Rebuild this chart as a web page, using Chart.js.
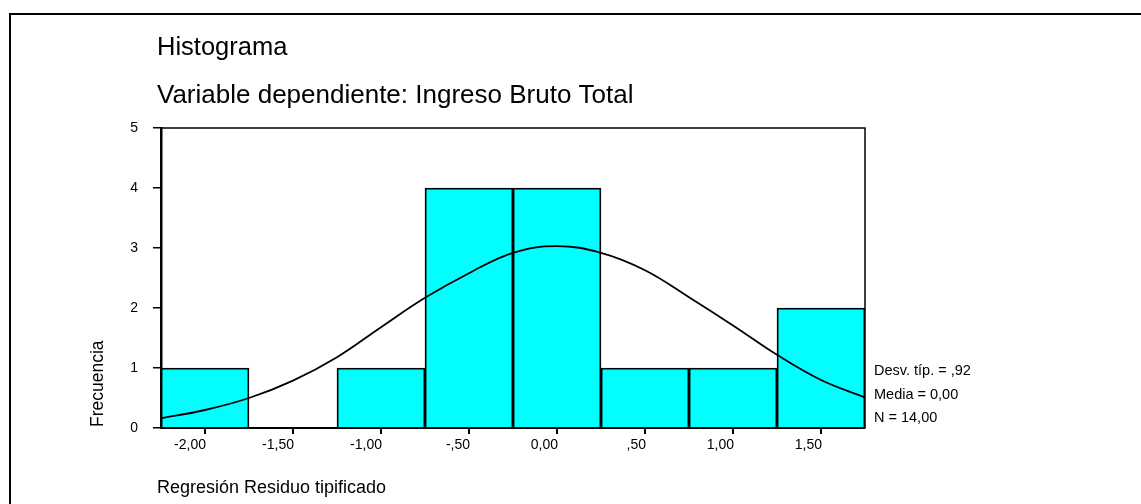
<!DOCTYPE html>
<html lang="es">
<head>
<meta charset="utf-8">
<title>Histograma</title>
<script src="https://cdn.jsdelivr.net/npm/chart.js@4.4.1/dist/chart.umd.min.js"></script>
<style>
  html, body { margin: 0; padding: 0; background: #fff; }
  canvas { display: block; }
</style>
</head>
<body>
<canvas id="histChart" width="1141" height="504"></canvas>
<script>
// histogram of standardized residuals with fitted normal curve

// ── Data ───────────────────────────────────────────
const binCenters  = [-2.0, -1.5, -1.0, -0.5, 0.0, 0.5, 1.0, 1.5];
const frequencies = [1, 0, 1, 4, 4, 1, 1, 2];

const tickValues = [-2.0, -1.5, -1.0, -0.5, 0.0, 0.5, 1.0, 1.5];
const tickLabels = ['-2,00', '-1,50', '-1,00', '-,50', '0,00', ',50', '1,00', '1,50'];

// normal curve, read every 0.25
const curveX = [-2.25, -2.0, -1.75, -1.5, -1.25, -1.0, -0.75, -0.5, -0.25, 0.0, 0.25, 0.5, 0.75, 1.0, 1.25, 1.5, 1.75];
const curveY = [0.16, 0.30, 0.50, 0.79, 1.18, 1.68, 2.17, 2.58, 2.92, 3.03, 2.92, 2.63, 2.18, 1.71, 1.22, 0.80, 0.51];

const titleText    = 'Histograma';
const subtitleText = 'Variable dependiente: Ingreso Bruto Total';
const xTitle       = 'Regresión Residuo tipificado';
const yTitle       = 'Frecuencia';
const statLines    = ['Desv. típ. = ,92', 'Media = 0,00', 'N = 14,00'];

const FONT = "'Liberation Sans', Arial, Helvetica, sans-serif";

// ── Texts, x tick marks and frame around the plot ──
const decorations = {
  id: 'decorations',
  afterDatasetsDraw(chart) {
    const { ctx, chartArea: a, scales } = chart;
    ctx.save();

    // frame of the plot area (top + right sides)
    ctx.strokeStyle = '#000';
    ctx.lineWidth = 1.5;
    ctx.beginPath();
    ctx.moveTo(a.left, a.top);
    ctx.lineTo(a.right, a.top);
    ctx.lineTo(a.right, a.bottom);
    ctx.stroke();

    // short tick marks under the x axis
    ctx.lineWidth = 2;
    ctx.beginPath();
    tickValues.forEach(v => {
      const px = Math.round(scales.x.getPixelForValue(v));
      ctx.moveTo(px, a.bottom);
      ctx.lineTo(px, a.bottom + 6);
    });
    ctx.stroke();

    // outer border of the figure
    ctx.beginPath();
    ctx.moveTo(10, 504);
    ctx.lineTo(10, 14);
    ctx.lineTo(1141, 14);
    ctx.stroke();

    ctx.fillStyle = '#000';
    ctx.textAlign = 'left';
    ctx.textBaseline = 'alphabetic';

    ctx.font = `25.5px ${FONT}`;
    ctx.fillText(titleText, 157, 55);
    ctx.font = `26px ${FONT}`;
    ctx.fillText(subtitleText, 157, 103);

    ctx.font = `18px ${FONT}`;
    ctx.fillText(xTitle, 157, 493);

    ctx.save();
    ctx.font = `17.5px ${FONT}`;
    ctx.translate(103, 427);
    ctx.rotate(-Math.PI / 2);
    ctx.fillText(yTitle, 0, 0);
    ctx.restore();

    ctx.font = `14.5px ${FONT}`;
    statLines.forEach((s, i) => ctx.fillText(s, 874, 375 + i * 23.5));

    ctx.restore();
  }
};

// ── Chart ──────────────────────────────────────────
new Chart(document.getElementById('histChart'), {
  type: 'bar',
  data: {
    datasets: [
      {
        type: 'line',
        data: curveX.map((x, i) => ({ x, y: curveY[i] })),
        borderColor: '#000',
        borderWidth: 1.8,
        pointRadius: 0,
        tension: 0.4,
        fill: false,
        order: 0
      },
      {
        type: 'bar',
        data: binCenters.map((x, i) => ({ x, y: frequencies[i] })),
        backgroundColor: '#00ffff',
        borderColor: '#000',
        borderWidth: 1.8,
        barPercentage: 1,
        categoryPercentage: 1,
        order: 1
      }
    ]
  },
  options: {
    responsive: false,
    animation: false,
    devicePixelRatio: 1,
    layout: { padding: { left: 0, right: 276, top: 128, bottom: 46 } },
    plugins: {
      legend: { display: false },
      tooltip: { enabled: false }
    },
    scales: {
      x: {
        type: 'linear',
        min: -2.25,
        max: 1.75,
        offset: false,
        afterBuildTicks: scale => { scale.ticks = tickValues.map(v => ({ value: v })); },
        afterFit: scale => { scale.height = 30; },
        grid: { display: true, offset: false, drawOnChartArea: false, drawTicks: true, tickLength: 6, color: '#000', lineWidth: 1.5 },
        border: { display: true, color: '#000', width: 2 },
        ticks: {
          autoSkip: false,
          maxRotation: 0,
          align: 'end',
          labelOffset: 1,
          padding: 3,
          color: '#000',
          font: { family: FONT, size: 14 },
          callback: v => tickLabels[tickValues.indexOf(v)] ?? ''
        }
      },
      y: {
        min: 0,
        max: 5,
        afterFit: scale => { scale.width = 161; },
        grid: { display: true, drawOnChartArea: false, drawTicks: true, tickLength: 8, color: '#000', lineWidth: 1.5 },
        border: { display: true, color: '#000', width: 2.5 },
        ticks: {
          stepSize: 1,
          padding: 15,
          color: '#000',
          font: { family: FONT, size: 14 }
        }
      }
    }
  },
  plugins: [decorations]
});
</script>
</body>
</html>
